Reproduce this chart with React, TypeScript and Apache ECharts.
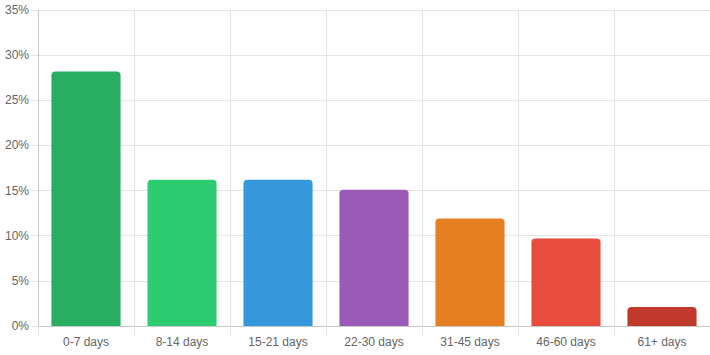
import React, { useEffect, useRef } from "react";
import * as echarts from "echarts";

const categories = ["0-7 days", "8-14 days", "15-21 days", "22-30 days", "31-45 days", "46-60 days", "61+ days"];
const values = [28.2, 16.2, 16.2, 15.1, 11.9, 9.7, 2.1];
const colors = ["#27ae60", "#2ecc71", "#3498db", "#9b59b6", "#e67e22", "#e74c3c", "#c0392b"];

export default function App() {
  const ref = useRef<HTMLDivElement>(null);
  useEffect(() => {
    if (!ref.current) return;
    const chart = echarts.init(ref.current, null, { renderer: "svg" });
    const gridColor = "#e3e3e3";
    chart.setOption({
      animation: false,
      grid: { left: 38, right: 0, top: 10, bottom: 29, containLabel: false },
      xAxis: {
        type: "category",
        data: categories,
        axisLine: { show: true, lineStyle: { color: "#c8c8c8", width: 1 } },
        axisTick: { show: true, length: 9, lineStyle: { color: gridColor } },
        splitLine: { show: true, lineStyle: { color: gridColor, width: 1 } },
        axisLabel: { color: "#666", fontSize: 12, fontFamily: "Liberation Sans, Arial, sans-serif", margin: 10 },
      },
      yAxis: {
        type: "value",
        min: 0,
        max: 35,
        interval: 5,
        axisLine: { show: true, lineStyle: { color: "#c8c8c8", width: 1 } },
        axisTick: { show: true, length: 7, lineStyle: { color: gridColor } },
        splitLine: { show: true, lineStyle: { color: gridColor, width: 1 } },
        axisLabel: { color: "#666", fontSize: 12, fontFamily: "Liberation Sans, Arial, sans-serif", margin: 9, formatter: "{value}%" },
      },
      series: [
        {
          type: "bar",
          data: values.map((v, i) => ({ value: v, itemStyle: { color: colors[i] } })),
          barCategoryGap: "28%",
          itemStyle: { borderRadius: [4, 4, 0, 0] },
        },
      ],
    });
    return () => chart.dispose();
  }, []);
  return <div ref={ref} style={{ width: 710, height: 355, position: "absolute", left: 0, top: 0 }} />;
}
